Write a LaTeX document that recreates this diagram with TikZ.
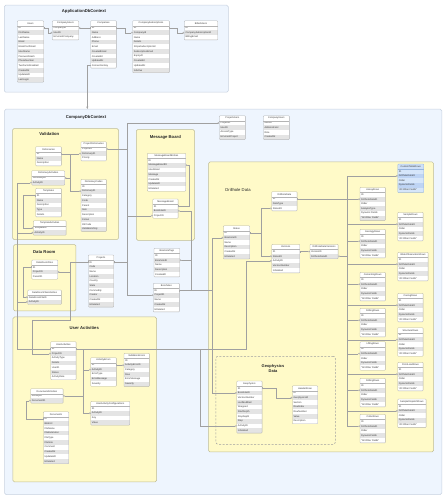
\documentclass[tikz,border=0pt]{standalone}
\usepackage{fontspec}
\setmainfont{Liberation Sans}
\usetikzlibrary{arrows.meta}
\definecolor{ctxfill}{RGB}{238,245,254}
\definecolor{ctxdraw}{RGB}{200,210,224}
\definecolor{grpfill}{RGB}{255,250,200}
\definecolor{grpdraw}{RGB}{190,188,150}
\definecolor{tabdraw}{RGB}{180,180,180}
\definecolor{etabodd}{RGB}{255,255,255}
\definecolor{etabeven}{RGB}{228,228,228}
\definecolor{etabhead}{RGB}{255,255,255}
\definecolor{relcol}{RGB}{160,160,160}
\definecolor{txtcol}{RGB}{55,55,55}
\definecolor{blueA}{RGB}{214,230,250}
\definecolor{blueB}{RGB}{190,212,244}
\definecolor{blueH}{RGB}{206,224,248}
\definecolor{blueD}{RGB}{150,180,220}
\pgfdeclarelayer{bg}\pgfdeclarelayer{lines}\pgfsetlayers{bg,lines,main}
\newcommand\tabfont{\fontsize{2.4}{2.8}\selectfont}
\newcommand\ttlfont{\fontsize{4.2}{5}\selectfont\bfseries}
\def\rowh{4.7}
\newcommand\etab[6]{%
  \node[ehead, minimum width=#4pt, anchor=north west] (#1) at (#2,#3) {#5};
  \foreach \r [count=\i] in {#6}{%
    \ifodd\i\def\etabcol{etabodd}\else\def\etabcol{etabeven}\fi
    \node[erow, fill=\etabcol, minimum width=#4pt, anchor=north west] (#1-\i) at (#2,{#3+\i*\rowh}) {};
    \node[etxt, anchor=west] at ([xshift=1pt]#1-\i.west) {\r};
    \global\let\etablast\i
  }
  \draw[esep] (#1.south west) -- (#1.south east);
  \draw[eframe] (#1.north west) rectangle (#1-\etablast.south east);
}
\begin{document}
\begin{tikzpicture}[x=1pt,y=-1pt,
  ctx/.style={draw=ctxdraw, fill=ctxfill, line width=.5pt, rounded corners=1.5pt, inner sep=0},
  grp/.style={draw=grpdraw, fill=grpfill, line width=.5pt, rounded corners=1.5pt, inner sep=0},
  geogrp/.style={draw=gray!75, fill=grpfill, line width=.5pt, dash pattern=on 2pt off 1.5pt, rounded corners=2pt, inner sep=0},
  ttl/.style={font=\ttlfont, text=black!85, inner sep=0},
  ehead/.style={fill=etabhead, inner sep=0, minimum height=\rowh pt, font=\tabfont, text=txtcol},
  erow/.style={inner sep=0, minimum height=\rowh pt},
  etxt/.style={inner sep=0, font=\tabfont, text=txtcol},
  esep/.style={draw=tabdraw, line width=.25pt},
  eframe/.style={draw=tabdraw, line width=.35pt, rounded corners=.8pt},
  rel/.style={draw=relcol, line width=.28pt,
    arrows={Bar[width=2pt,line width=.28pt]-Circle[length=1.7pt,width=1.7pt,fill=white,line width=.28pt]}},
  ctxarrow/.style={draw=relcol, line width=.35pt, -{Stealth[length=2.5pt,width=2pt]}}
]
\useasboundingbox (0,0) rectangle (447,500);

\begin{pgfonlayer}{bg}
\fill[white] (0,0) rectangle (447,500);
\node[ctx, minimum width=224pt, minimum height=87pt, anchor=north west] (adb) at (4,5) {};
\node[ctx, minimum width=437.2pt, minimum height=385.3pt, anchor=north west] (cdb) at (4.3,109) {};
\node[grp, minimum width=106pt, minimum height=111pt, anchor=north west] (gval) at (12.3,128.3) {};
\node[grp, minimum width=58.3pt, minimum height=110.7pt, anchor=north west] (gmsg) at (136,129.3) {};
\node[grp, minimum width=62.4pt, minimum height=66.4pt, anchor=north west] (gdr) at (13.3,244.3) {};
\node[grp, minimum width=143.6pt, minimum height=165pt, anchor=north west] (gua) at (12.7,316.7) {};
\node[grp, minimum width=225pt, minimum height=290pt, anchor=north west] (gdh) at (208.3,161.7) {};
\node[geogrp, minimum width=119.3pt, minimum height=88pt, anchor=north west] (ggeo) at (215.7,356) {};
\end{pgfonlayer}

\node[ttl] (tadb) at (84,11) {ApplicationDbContext};
\node[ttl] (tcdb) at (86,117.7) {CompanyDbContext};
\node[ttl] (tval) at (49.3,134.3) {Validation};
\node[ttl] (tmsg) at (165.3,137.3) {Message Board};
\node[ttl] (tdr) at (44.3,251.7) {Data Room};
\node[ttl] (tua) at (84.3,327.7) {User Activities};
\node[ttl, font=\fontsize{4.2}{5}\selectfont] (tdh) at (238,190) {Drillhole Data};
\node[ttl, align=center, font=\fontsize{4}{4.9}\selectfont\bfseries] (tgeo) at (273,368.5) {Geophysics\\Data};

% ApplicationDbContext tables
\etab{users}{17.3}{20.7}{26}{Users}{ID,FirstName,LastName,Email,EmailConfirmed,UserName,PasswordHash,PhoneNumber,TwoFactorEnabled,CreatedAt,UpdatedAt,LastLogin}
\etab{cu}{52.3}{20.7}{26}{CompanyUsers}{CompanyID,UserID,IsCurrentCompany}
\etab{comp}{90.7}{20.7}{25.3}{Companies}{ID,Name,Address,Phone,Email,CreatedEmail,CreatedAt,UpdatedAt,ConnectionKey}
\etab{csub}{132.7}{20.7}{36.3}{CompanySubscriptions}{ID,CompanyId,Name,Details,StripeSubscriptionId,SubscriptionEmail,ExpiryAt,CreatedAt,UpdatedAt,IsActive}
\etab{bu}{184.3}{20.7}{33}{BilledUsers}{ID,CompanySubscriptionId,BillingEmail}

% CompanyDbContext tables
\etab{pu}{219.3}{115.7}{25.7}{ProjectUsers}{ProjectID,UserID,AccessType,IsCurrentProject}
\etab{cuu}{263.3}{115.7}{25.7}{CompanyUsers}{UserID,Administrator,Role,CreatedAt}
\etab{dict}{35.7}{146.7}{25.3}{Dictionaries}{ID,Name,Description}
\etab{pd}{81}{141.7}{25}{ProjectDictionaries}{ProjectID,DictionaryID,Priority}
\etab{da}{31.7}{170.7}{32.6}{DictionaryActivities}{DictionaryID,ActivityID}
\etab{tmpl}{35.7}{188.3}{25.3}{Templates}{ID,Name,Description,Type,Details}
\etab{ta}{33.3}{220.7}{32.4}{TemplateActivities}{TemplateID,ActivityID}
\etab{dc}{81}{179.3}{25}{DictionaryCodes}{ID,DictionaryID,Category,Code,Parent,Item,Description,Colour,OtrCode,ValidationOnly}
\etab{mbe}{147.3}{153.3}{38}{MessageBoardEntries}{ID,MessageBoardID,UserEmail,Message,CreatedAt,UpdatedAt,IsDeleted}
\etab{mb}{152.7}{199}{25}{MessageBoard}{ID,BoreholeID,ProjectID}
\etab{proj}{88.3}{255}{25}{Projects}{ID,Code,Name,Location,Country,State,Commodity,Creator,CreatedAt,IsDeleted}
\etab{drf}{31.7}{260}{25.6}{DataRoomFiles}{ID,ProjectID,ParentID}
\etab{drfa}{27.7}{290}{33.3}{DataRoomFileActivities}{DataRoomFileID,ActivityID}
\etab{bt}{154}{248.3}{25.3}{BoreholeTags}{ID,BoreholeID,Name,Description,CreatedAt}
\etab{bh}{153.3}{283.3}{25.7}{Boreholes}{ID,ProjectID,Name,CreatedAt,IsDeleted}
\etab{ua}{50.7}{341.7}{25}{UserActivities}{ID,ProjectID,ActivityType,Details,UserID,Status,ActivityDate}
\etab{ae}{90.7}{357.7}{25.3}{ActivityErrors}{ID,ActivityID,ErrorType,ErrorMessage,Severity}
\etab{ve}{124}{353.3}{25}{ValidationErrors}{ID,ActivityErrorID,Category,Row,ErrorMessage,Severity}
\etab{dca}{30.7}{388.7}{32}{DocumentActivities}{ActivityID,DocumentID}
\etab{uac}{90.7}{401.3}{38.6}{UserActivityConfigurations}{ID,ActivityID,Key,Value}
\etab{doc}{43.3}{411.7}{25}{Documents}{ID,BlobUrl,FileName,FileExtension,FileType,FileSize,Comment,CreatedAt,UpdatedAt,IsDeleted}
\etab{st}{223.3}{225.7}{26}{Status}{ID,BoreholeID,Name,Description,CreatedAt,IsDeleted}
\etab{dd}{271.7}{191.7}{25}{DrillholeData}{ID,DataType,StatusID}
\etab{ver}{271.7}{244.3}{27.6}{Versions}{ID,StatusID,ActivityID,VersionNumber,IsDeleted}
\etab{ddv}{310}{244.3}{27.7}{DrillholeDataVersions}{VersionID,DrillholeDataID}
\etab{geo}{236.7}{381}{25}{Geophysics}{ID,BoreholeID,VersionNumber,LastModified,Wrapped,StartDepth,StopDepth,Step,ActivityID,IsDeleted}
\etab{hr}{292.3}{385.7}{25}{HeaderRows}{ID,GeophysicsId,Section,RowIndex,RowNumber,Value,Description}
\begin{scope}
\colorlet{etabodd}{blueA}\colorlet{etabeven}{blueB}\colorlet{etabhead}{blueH}\colorlet{tabdraw}{blueD}
\etab{ctr}{397.7}{164}{25.6}{CustomTableRows}{ID,DrillholeDataID,Order,DynamicFields,"All Other Fields"}
\end{scope}
\etab{ar}{360}{187.3}{25}{AssayRows}{ID,DrillholeDataID,Order,AnalysisType,Dynamic Fields,"All Other Fields"}
\etab{sr}{397.7}{212.3}{25}{SampleRows}{ID,DrillholeDataID,Order,DynamicFields,"All Other Fields"}
\etab{gr}{360}{229.3}{25}{GeologyRows}{ID,DrillholeDataID,Order,DynamicFields,"All Other Fields"}
\etab{wor}{397.7}{252.3}{30}{WaterObservationRows}{ID,DrillholeDataID,Order,DynamicFields,"All Other Fields"}
\etab{cmr}{360}{272.3}{25}{CementingRows}{ID,DrillholeDataID,Order,DynamicFields,"All Other Fields"}
\etab{csr}{397.7}{293.3}{25}{CasingRows}{ID,DrillholeDataID,Order,DynamicFields,"All Other Fields"}
\etab{drr}{360}{308.3}{25}{DrillingRows}{ID,DrillholeDataID,Order,DynamicFields,"All Other Fields"}
\etab{str}{397.7}{327.7}{25}{StructureRows}{ID,DrillholeDataID,Order,DynamicFields,"All Other Fields"}
\etab{lr}{360}{341.7}{25}{LiftingRows}{ID,DrillholeDataID,Order,DynamicFields,"All Other Fields"}
\etab{plr}{397.7}{362.3}{25}{PointLoadRows}{ID,DrillholeDataID,Order,DynamicFields,"All Other Fields"}
\etab{dr2}{360}{378.3}{25}{DrillingRows}{ID,DrillholeDataID,Order,DynamicFields,"All Other Fields"}
\etab{sdr}{397.7}{399}{28}{SampleDispatchRows}{ID,DrillholeDataID,Order,DynamicFields,"All Other Fields"}
\etab{clr}{360}{414.3}{25}{CollarRows}{ID,DrillholeDataID,Order,DynamicFields,"All Other Fields"}

% trunk coordinates
\coordinate (tP) at (126.7,0);
\coordinate (tQ) at (70,0);
\coordinate (wUA) at (32.3,320);
\coordinate (tV) at (70,0);
\coordinate (tT) at (23.3,0);
\coordinate (tU) at (16.7,0);
\coordinate (tA) at (245.7,0);
\coordinate (tG) at (200,0);
\coordinate (tB) at (82.7,0);
\coordinate (tM) at (189,0);
\coordinate (tM2) at (191,0);
\coordinate (tS) at (212.3,0);
\coordinate (tD) at (261,0);
\coordinate (tR) at (347,0);

\begin{pgfonlayer}{lines}
% application context
\draw[rel] (users-1.east) -- ++(4,0) |- (cu-2.west);
\draw[rel] (comp-1.west) -- (cu-1.east);
\draw[rel] (comp-1.east) -- ++(9,0) |- (csub-2.west);
\draw[rel] (csub-1.east) -- ++(8,0) |- (bu-2.west);
\draw[ctxarrow] (comp-9.west) -- ++(-3.4,0) coordinate (kc) -- (kc |- cdb.north);
% projects hub
\draw[rel] (proj-1.east) -- (tP |- proj-1.east) |- (pu-1.west);
\draw[rel] (proj-1.east) -- (tP |- proj-1.east) |- (pd-1.east);
\draw[rel] (proj-1.east) -- (tP |- proj-1.east) |- (mb-3.west);
\draw[rel] (proj-1.east) -- (tP |- proj-1.east) |- (bh-2.west);
\draw[rel] (proj-1.west) -- (tQ |- proj-1.west) |- (drf-2.east);
\draw[rel] (proj-1.west) -- (tQ |- proj-1.west) -- (tQ |- wUA) -- (wUA) |- (ua-2.west);
% validation
\draw[rel] (dict-1.east) -- (tV |- dict-1.east) |- (pd-2.west);
\draw[rel] (dict-1.east) -- (tV |- dict-1.east) |- (dc-2.west);
\draw[rel] (dict-1.east) -- (tV |- dict-1.east) |- (da-1.east);
\draw[rel] (tmpl-1.west) -- (tT |- tmpl-1.west) |- (ta-1.west);
% user activities
\draw[rel] (ua-1.west) -- (tU |- ua-1.west) |- (da-2.west);
\draw[rel] (ua-1.west) -- (tU |- ua-1.west) |- (ta-2.west);
\draw[rel] (ua-1.west) -- (tU |- ua-1.west) |- (drfa-2.west);
\draw[rel] (ua-1.east) -- (tA |- ua-1.east) |- (ver-3.west);
\draw[rel] (ua-1.east) -- (tG |- ua-1.east) |- (geo-9.west);
\draw[rel] (ua-1.east) -- (tB |- ua-1.east) |- (ae-2.west);
\draw[rel] (ua-1.east) -- (tB |- ua-1.east) |- (dca-1.east);
\draw[rel] (ua-1.east) -- (tB |- ua-1.east) |- (uac-2.west);
\draw[rel] (ae-1.east) -- ++(3,0) |- (ve-2.west);
\draw[rel] (doc-1.west) -- ++(-17.6,0) |- (dca-2.west);
\draw[rel] (drf-1.west) -- ++(-8.4,0) |- (drfa-1.west);
% message board and boreholes
\draw[rel] (mb-1.east) -- (tM |- mb-1.east) |- (mbe-2.east);
\draw[rel] (bh-1.east) -- (tM2 |- bh-1.east) |- (mb-2.east);
\draw[rel] (bh-1.east) -- (tM2 |- bh-1.east) |- (bt-2.east);
% drillhole
\draw[rel] (bh-1.east) -- (tS |- bh-1.east) |- (st-2.west);
\draw[rel] (bh-1.east) -- (tS |- bh-1.east) |- (geo-2.west);
\draw[rel] (st-1.east) -- (tD |- st-1.east) |- (dd-3.west);
\draw[rel] (st-1.east) -- (tD |- st-1.east) |- (ver-2.west);
\draw[rel] (ver-1.east) -- (ddv-1.west);
\draw[rel] (geo-1.east) -- ++(14.3,0) |- (hr-2.west);
\draw[rel] (dd-1.east) -- (tR |- dd-1.east) |- (ddv-2.east);
\foreach \t in {ctr,ar,sr,gr,wor,cmr,csr,drr,str,lr,plr,dr2,sdr,clr}{
  \draw[rel] (dd-1.east) -- (tR |- dd-1.east) |- (\t-2.west);
}
\end{pgfonlayer}
\end{tikzpicture}
\end{document}
